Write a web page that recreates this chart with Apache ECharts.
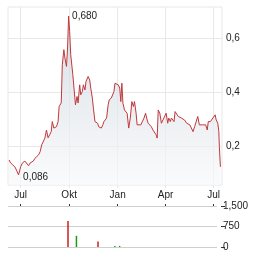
<!DOCTYPE html>
<html>
<head>
<meta charset="utf-8">
<script src="https://cdn.jsdelivr.net/npm/echarts@6/dist/echarts.min.js"></script>
<style>
  html, body { margin: 0; padding: 0; background: #fff; }
  #chart { width: 264px; height: 255px; }
</style>
</head>
<body>
<div id="chart"></div>
<script>
const dates = [
  '2023-06-09', '2023-06-12', '2023-06-16', '2023-06-20', '2023-06-23', '2023-06-27', '2023-06-29',
  '2023-07-01', '2023-07-04', '2023-07-09', '2023-07-12', '2023-07-16', '2023-07-19', '2023-07-22',
  '2023-07-25', '2023-07-28', '2023-07-31', '2023-08-04', '2023-08-07', '2023-08-10', '2023-08-13',
  '2023-08-16', '2023-08-19', '2023-08-22', '2023-08-25', '2023-08-28', '2023-08-30', '2023-09-02',
  '2023-09-05', '2023-09-07', '2023-09-10', '2023-09-12', '2023-09-14', '2023-09-16', '2023-09-17',
  '2023-09-18', '2023-09-21', '2023-09-23', '2023-09-26', '2023-09-28', '2023-09-30', '2023-10-02',
  '2023-10-04', '2023-10-06', '2023-10-08', '2023-10-11', '2023-10-13', '2023-10-16', '2023-10-18',
  '2023-10-21', '2023-10-23', '2023-10-26', '2023-10-28', '2023-10-31', '2023-11-02', '2023-11-06',
  '2023-11-09', '2023-11-11', '2023-11-14', '2023-11-16', '2023-11-19', '2023-11-21', '2023-11-24',
  '2023-11-26', '2023-11-29', '2023-12-01', '2023-12-04', '2023-12-06', '2023-12-09', '2023-12-11',
  '2023-12-14', '2023-12-16', '2023-12-20', '2023-12-23', '2023-12-25', '2023-12-27', '2023-12-29',
  '2024-01-02', '2024-01-05', '2024-01-07', '2024-01-09', '2024-01-11', '2024-01-14', '2024-01-17',
  '2024-01-19', '2024-01-22', '2024-01-25', '2024-01-28', '2024-01-31', '2024-02-02', '2024-02-05',
  '2024-02-07', '2024-02-10', '2024-02-14', '2024-02-17', '2024-02-20', '2024-02-23', '2024-02-26',
  '2024-02-28', '2024-03-02', '2024-03-05', '2024-03-08', '2024-03-11', '2024-03-14', '2024-03-16',
  '2024-03-18', '2024-03-21', '2024-03-24', '2024-03-27', '2024-03-30', '2024-04-02', '2024-04-05',
  '2024-04-07', '2024-04-10', '2024-04-12', '2024-04-15', '2024-04-17', '2024-04-19', '2024-04-22',
  '2024-04-25', '2024-04-28', '2024-05-01', '2024-05-04', '2024-05-07', '2024-05-11', '2024-05-14',
  '2024-05-17', '2024-05-20', '2024-05-23', '2024-05-26', '2024-05-29', '2024-06-01', '2024-06-04',
  '2024-06-07', '2024-06-10', '2024-06-13', '2024-06-16', '2024-06-19', '2024-06-21', '2024-06-25',
  '2024-06-28', '2024-07-04', '2024-07-06', '2024-07-09', '2024-07-11', '2024-07-12', '2024-07-14'
];

const prices = [
  0.148, 0.137, 0.130, 0.123, 0.111, 0.093, 0.086,
  0.123, 0.136, 0.144, 0.137, 0.127, 0.137, 0.130,
  0.144, 0.154, 0.152, 0.167, 0.179, 0.204, 0.210,
  0.229, 0.259, 0.230, 0.241, 0.253, 0.290, 0.266,
  0.259, 0.271, 0.290, 0.346, 0.352, 0.359, 0.426,
  0.500, 0.556, 0.525, 0.494, 0.562, 0.680, 0.623,
  0.537, 0.531, 0.463, 0.457, 0.352, 0.383, 0.359,
  0.426, 0.389, 0.401, 0.426, 0.407, 0.438, 0.457,
  0.444, 0.414, 0.377, 0.340, 0.290, 0.296, 0.284,
  0.271, 0.278, 0.266, 0.278, 0.290, 0.284, 0.303,
  0.352, 0.370, 0.377, 0.383, 0.401, 0.432, 0.438,
  0.426, 0.414, 0.364, 0.432, 0.358, 0.333, 0.333,
  0.321, 0.266, 0.303, 0.364, 0.346, 0.364, 0.321,
  0.278, 0.284, 0.278, 0.284, 0.303, 0.321, 0.296,
  0.284, 0.278, 0.271, 0.259, 0.253, 0.241, 0.229,
  0.333, 0.321, 0.284, 0.296, 0.290, 0.321, 0.284,
  0.303, 0.290, 0.303, 0.296, 0.290, 0.327, 0.321,
  0.309, 0.315, 0.303, 0.309, 0.296, 0.284, 0.290,
  0.278, 0.271, 0.253, 0.271, 0.278, 0.309, 0.278,
  0.271, 0.278, 0.271, 0.278, 0.259, 0.290, 0.290,
  0.296, 0.315, 0.296, 0.284, 0.253, 0.197, 0.123
];

// Umsatz (nur Tage mit sichtbarem Balken)
const volDates = ['2023-09-29', '2023-10-15', '2023-11-25', '2023-12-27', '2024-01-05'];
const volValues = [955, 410, 205, 40, 40];
const volUp = [false, true, false, true, true];

const monthTicks = ['2023-07-01', '2023-10-01', '2024-01-01', '2024-04-01', '2024-07-01'];
const priceTicks = [0.2, 0.4, 0.6];
const monthNames = ['Jan', 'Feb', 'Mär', 'Apr', 'Mai', 'Jun', 'Jul', 'Aug', 'Sep', 'Okt', 'Nov', 'Dez'];

window.onload = init;

function ts(d) {
    return Date.parse(d + 'T00:00:00Z');
}

function init() {
    const chart = echarts.init(document.getElementById('chart'), null, { renderer: 'canvas' });
    const font = 'Liberation Sans, Arial, sans-serif';
    const gridColor = '#e8e8e8';

    let priceData = dates.map((d, i) => [ts(d), prices[i]]);
    let volData = volDates.map((d, i) => ({
        value: [ts(d), volValues[i]],
        itemStyle: { color: volUp[i] ? '#1a9a1a' : '#cc1f1f' }
    }));
    let tickTs = monthTicks.map(ts);

    let options = {
        animation: false,
        backgroundColor: '#fff',
        textStyle: { fontFamily: font },
        grid: [
            { left: 8, right: 42, top: 7, bottom: 70, show: true, borderColor: gridColor, borderWidth: 1, backgroundColor: 'transparent' },
            { left: 8, right: 47, top: 206, bottom: 8 }
        ],
        xAxis: [
            {
                type: 'value', gridIndex: 0,
                min: ts('2023-06-07'), max: ts('2024-07-17'),
                axisLine: { show: false, onZero: false },
                axisTick: { show: true, customValues: tickTs, length: 3, lineStyle: { color: gridColor } },
                splitLine: { show: true, lineStyle: { color: gridColor, width: 1 } },
                axisLabel: {
                    customValues: tickTs, margin: 5, fontSize: 10, color: '#222', fontFamily: font,
                    formatter: v => monthNames[new Date(v).getUTCMonth()]
                }
            },
            {
                type: 'value', gridIndex: 1, position: 'top',
                min: ts('2023-06-07'), max: ts('2024-07-08'),
                axisLine: { show: false, onZero: false },
                axisTick: { show: true, customValues: tickTs, length: 2, lineStyle: { color: '#333' } },
                splitLine: { show: false },
                axisLabel: { show: false, customValues: tickTs }
            }
        ],
        yAxis: [
            {
                type: 'value', gridIndex: 0, position: 'right',
                min: 0.0556, max: 0.7137,
                axisLine: { show: false },
                axisTick: { show: false, customValues: priceTicks },
                splitLine: { show: true, lineStyle: { color: gridColor, width: 1 } },
                axisLabel: {
                    customValues: priceTicks, margin: 4, fontSize: 10, color: '#222', fontFamily: font,
                    formatter: v => v.toFixed(1).replace('.', ',')
                }
            },
            {
                type: 'value', gridIndex: 1, position: 'right', offset: 4,
                min: 0, max: 1500, interval: 750,
                axisLine: { show: false },
                axisTick: { show: true, length: 4, lineStyle: { color: '#333' } },
                splitLine: { show: true, lineStyle: { color: '#cfcfcf', width: 1 } },
                axisLabel: { margin: 2, fontSize: 10, color: '#222', fontFamily: font }
            }
        ],
        series: [
            {
                name: 'Kurs',
                type: 'line',
                xAxisIndex: 0, yAxisIndex: 0,
                data: priceData,
                showSymbol: false,
                symbol: 'none',
                lineStyle: { color: '#c0393b', width: 1 },
                areaStyle: {
                    color: new echarts.graphic.LinearGradient(0, 0, 0, 1, [
                        { offset: 0, color: '#c9d2db' },
                        { offset: 1, color: '#f8f9fa' }
                    ])
                },
                markPoint: {
                    symbol: 'circle',
                    symbolSize: 1,
                    itemStyle: { color: 'transparent' },
                    label: {
                        show: true, position: 'right', distance: 3,
                        fontSize: 10, color: '#222', fontFamily: font,
                        formatter: p => p.value.toFixed(3).replace('.', ',')
                    },
                    data: [{ type: 'max' }, { type: 'min' }]
                }
            },
            {
                name: 'Umsatz',
                type: 'bar',
                xAxisIndex: 1, yAxisIndex: 1,
                data: volData,
                barWidth: 1.5
            }
        ]
    };

    chart.setOption(options);
}
</script>
</body>
</html>
